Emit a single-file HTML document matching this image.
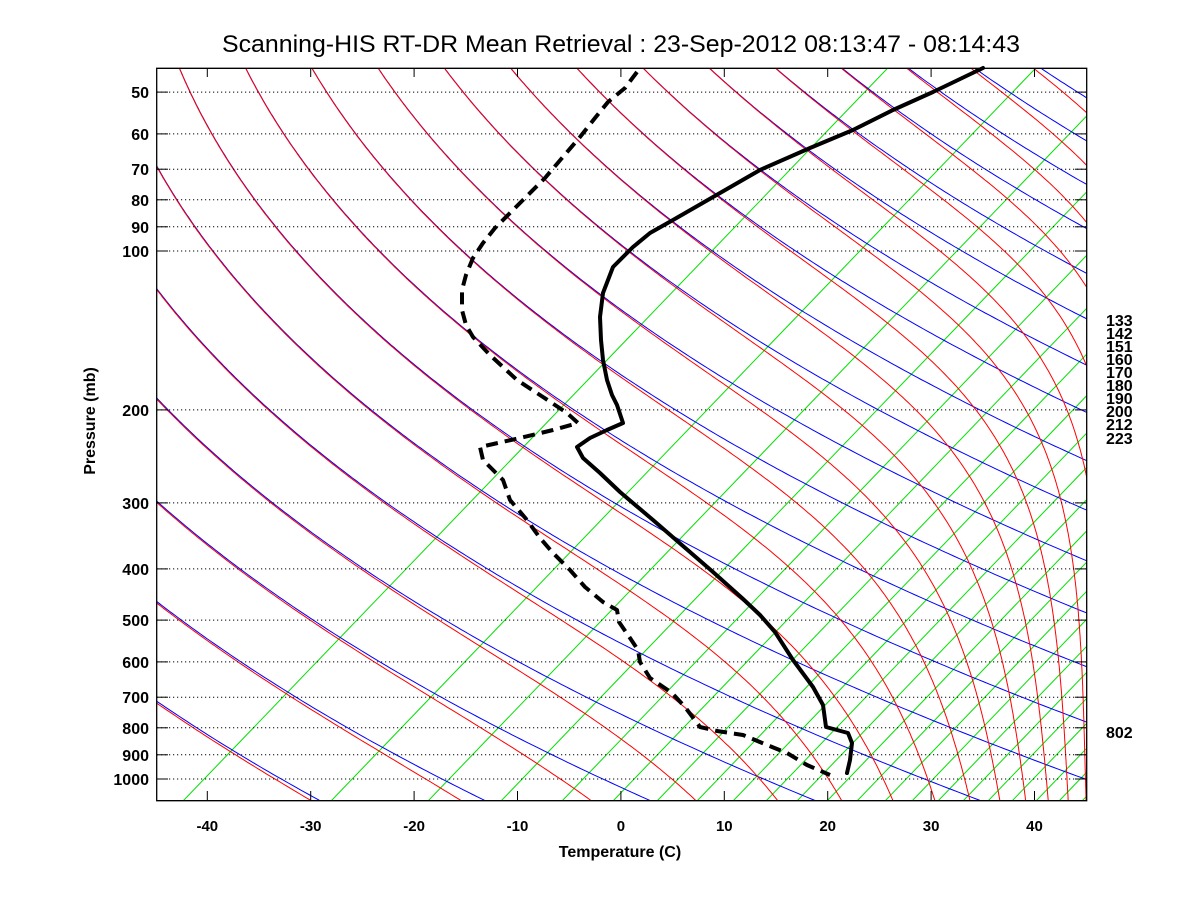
<!DOCTYPE html>
<html><head><meta charset="utf-8"><style>
html,body{margin:0;padding:0;background:#fff;}
svg{display:block;font-family:"Liberation Sans",sans-serif;}
</style></head><body>
<svg id="s" width="1200" height="900" viewBox="0 0 1200 900" xmlns="http://www.w3.org/2000/svg">
<defs><clipPath id="c"><rect x="156.7" y="68.3" width="930" height="732"/></clipPath></defs>
<rect width="1200" height="900" fill="#fff"/>
<g id="lines" clip-path="url(#c)"></g>
<g id="axes"></g>
<text x="621" y="52" font-size="24" text-anchor="middle" textLength="798" lengthAdjust="spacingAndGlyphs">Scanning-HIS RT-DR Mean Retrieval : 23-Sep-2012 08:13:47 - 08:14:43</text>
<text x="620" y="857" font-size="16" font-weight="bold" text-anchor="middle">Temperature (C)</text>
<text transform="translate(95,421) rotate(-90)" font-size="16" font-weight="bold" text-anchor="middle">Pressure (mb)</text>
<g font-size="16" font-weight="bold">
<text x="1106" y="326">133</text><text x="1106" y="339">142</text><text x="1106" y="352">151</text>
<text x="1106" y="365">160</text><text x="1106" y="378">170</text><text x="1106" y="391">180</text>
<text x="1106" y="404">190</text><text x="1106" y="417">200</text><text x="1106" y="430">212</text>
<text x="1106" y="444">223</text><text x="1106" y="738">802</text>
</g>
</svg>
<script>
(function(){
var NS="http://www.w3.org/2000/svg";
var L=document.getElementById("lines"),A=document.getElementById("axes");
var K=30;
function X(xc){return 207.3+(xc+40)*10.34;}
function Y(p){return 251+528*Math.log10(p/100);}
function xcOf(Tc,p){return Tc+K*Math.log(1000/p);}
function path(g,d,col,w,extra){var e=document.createElementNS(NS,"path");e.setAttribute("d",d);e.setAttribute("fill","none");e.setAttribute("stroke",col);e.setAttribute("stroke-width",w);if(extra)for(var k in extra)e.setAttribute(k,extra[k]);g.appendChild(e);return e;}
function es(Tc){return 6.112*Math.exp(17.67*Tc/(Tc+243.5));}
var ps=[];for(var lp=Math.log(35);lp<=Math.log(1150);lp+=0.01)ps.push(Math.exp(lp));
var gx=[183,331,428,501,562,613,657,697,733,766,797,827,857,885,912,938,963,988,1012,1036,1059,1082,1104];
gx.forEach(function(x){path(L,"M"+x+",801 L"+(x+733/1.04).toFixed(1)+",68","#00e000",1);});
var Rd=287,cp=1004,Lv=2.5e6,eps=0.622,MF=0.6;
for(var n=-2;n<=24;n++){
 var th=240.3+15.55*n,d="";
 ps.forEach(function(p,i){var Tk=th*Math.pow(p/1000,0.286);d+=(i?"L":"M")+X(xcOf(Tk-273.15,p)).toFixed(1)+","+Y(p).toFixed(1);});
 path(L,d,"#0000ff",1);
 var p=35,Tk=th*Math.pow(p/1000,0.286),dr="M"+X(xcOf(Tk-273.15,p)).toFixed(1)+","+Y(p).toFixed(1);
 var dl=0.005;
 while(p<1150){
  for(var j=0;j<2;j++){
   var e=MF*es(Tk-273.15);var rs=eps*e/Math.max(p-e,1);
   var dT=(Rd*Tk+Lv*rs)/(cp+Lv*Lv*rs*eps/(Rd*Tk*Tk));
   Tk+=dT*dl;p*=Math.exp(dl);
  }
  dr+="L"+X(xcOf(Tk-273.15,p)).toFixed(1)+","+Y(p).toFixed(1);
 }
 path(L,dr,"#ff0000",1);
}
var P=[50,60,70,80,90,100,200,300,400,500,600,700,800,900,1000];
P.forEach(function(p){var y=Y(p).toFixed(1);
 path(A,"M157,"+y+"H1086","#000",1,{"stroke-dasharray":"1.2,2.8"});
 path(A,"M157,"+y+"H168","#000",1);path(A,"M1086,"+y+"H1075","#000",1);
 var t=document.createElementNS(NS,"text");t.setAttribute("x","149");t.setAttribute("y",(+y+6).toFixed(1));t.setAttribute("font-size","16");t.setAttribute("font-weight","bold");t.setAttribute("text-anchor","end");t.textContent=p;A.appendChild(t);
});
for(var T2=-40;T2<=40;T2+=10){var x=X(T2).toFixed(1);
 path(A,"M"+x+",800V791","#000",1);path(A,"M"+x+",68.5V77","#000",1);
 var t=document.createElementNS(NS,"text");t.setAttribute("x",x);t.setAttribute("y","831");t.setAttribute("font-size","15");t.setAttribute("font-weight","bold");t.setAttribute("text-anchor","middle");t.textContent=T2;A.appendChild(t);}
path(A,"M156.7,68.3H1086.7V800.7H156.7Z","#000",1.3);
var sol=[[983,68],[933,92],[893,110],[853,130],[810,148],[760,170],[720,193],[673,220],[650,233],[633,247],[613,267],[603,293],[600,317],[601,340],[603,360],[607,380],[612,395],[617,405],[623,423],[607,430],[590,438],[577,447],[583,458],[600,473],[620,492],[653,520],[683,546],[713,572],[742,598],[760,615],[775,632],[793,660],[813,687],[823,705],[826,727],[848,733],[852,743],[850,760],[847,773]];
var das=[[637,72],[625,88],[608,102],[595,118],[580,137],[562,158],[545,178],[527,196],[510,213],[495,228],[483,243],[473,258],[466,275],[462,290],[462,310],[466,325],[473,337],[490,355],[517,380],[543,397],[567,413],[578,423],[553,430],[520,438],[480,447],[483,460],[503,480],[510,500],[527,520],[540,538],[553,553],[570,570],[585,587],[603,602],[617,610],[619,622],[630,638],[638,650],[640,662],[650,678],[672,693],[685,707],[700,727],[717,731],[743,735],[767,745],[787,753],[807,765],[830,775]];
function pl(a){return "M"+a.map(function(q){return q[0]+","+q[1];}).join("L");}
path(A,pl(sol),"#000",4,{"stroke-linejoin":"round","stroke-linecap":"round"});
path(A,pl(das),"#000",4,{"stroke-dasharray":"12,7","stroke-linejoin":"round"});
})();
</script>
</body></html>
